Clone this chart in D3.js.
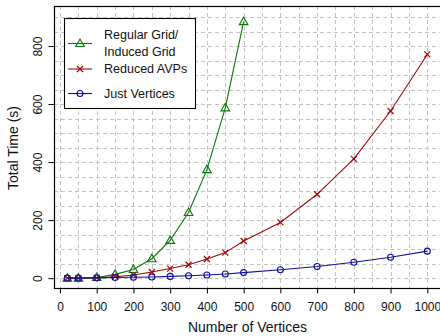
<!DOCTYPE html>
<html>
<head>
<meta charset="utf-8">
<script src="https://cdn.jsdelivr.net/npm/d3@7"></script>
<style>
  body { margin: 0; background: #fff; }
  svg text { font-family: "Liberation Sans", Arial, sans-serif; fill: #111; }
</style>
</head>
<body>
<div id="chart"></div>
<script>
// data
const vertices = [20, 50, 100, 150, 200, 250, 300, 350, 400, 450, 500, 600, 700, 800, 900, 1000];
const gridTimes = [0, 0, 2, 13, 30, 67, 130, 226, 374, 587, 884];
const avpTimes = [0, 0, 1, 5, 11, 21, 33, 46, 66, 88, 128, 192, 289, 411, 576, 771];
const vertexTimes = [0, 0, 1, 2, 3, 4, 6, 8, 11, 14, 19, 29, 40, 55, 72, 93];
const xTicks = [0, 100, 200, 300, 400, 500, 600, 700, 800, 900, 1000];
const yTicks = [0, 200, 400, 600, 800];

const W = 440, H = 336;
const plot = { left: 54, top: 6, right: 441, bottom: 288 };

const svg = d3.select("#chart").append("svg")
  .attr("width", W)
  .attr("height", H);

const x = d3.scaleLinear().domain([-16.3, 1037.3]).range([plot.left, plot.right]);
const y = d3.scaleLinear().domain([-34, 938]).range([plot.bottom, plot.top]);

// dashed grid every 50
const gx = d3.range(0, 1001, 50), gy = d3.range(0, 901, 50);
const grid = svg.append("g")
  .attr("stroke", "#c4c4c4")
  .attr("stroke-width", 1)
  .attr("stroke-dasharray", "4,3");
grid.selectAll("line.v").data(gx).enter().append("line")
  .attr("x1", d => Math.round(x(d)) + 0.5).attr("x2", d => Math.round(x(d)) + 0.5)
  .attr("y1", plot.top).attr("y2", plot.bottom);
grid.selectAll("line.h").data(gy).enter().append("line")
  .attr("y1", d => Math.round(y(d)) + 0.5).attr("y2", d => Math.round(y(d)) + 0.5)
  .attr("x1", plot.left).attr("x2", plot.right);

// box
svg.append("rect")
  .attr("x", plot.left + 0.5).attr("y", plot.top + 0.5)
  .attr("width", plot.right - plot.left).attr("height", plot.bottom - plot.top)
  .attr("fill", "none").attr("stroke", "#000").attr("stroke-width", 1.2);

// axes
const xAxis = svg.append("g")
  .attr("transform", `translate(0, ${plot.bottom + 0.5})`)
  .call(d3.axisBottom(x).tickValues(xTicks).tickFormat(d3.format("d"))
    .tickSize(5).tickPadding(8.5).tickSizeOuter(0));
xAxis.select(".domain").remove();
xAxis.selectAll("text").style("font-size", "12px");

const yAxis = svg.append("g")
  .attr("transform", `translate(${plot.left + 0.5}, 0)`)
  .call(d3.axisLeft(y).tickValues(yTicks).tickFormat(d3.format("d"))
    .tickSize(6).tickSizeOuter(0));
yAxis.select(".domain").remove();
yAxis.selectAll("text")
  .attr("transform", "rotate(-90)")
  .attr("text-anchor", "middle")
  .attr("x", 0)
  .attr("y", -16.5)
  .attr("dy", "0.35em")
  .style("font-size", "12px");

svg.append("text")
  .attr("x", (plot.left + plot.right) / 2)
  .attr("y", 332)
  .attr("text-anchor", "middle")
  .style("font-size", "14px")
  .text("Number of Vertices");
svg.append("text")
  .attr("transform", "translate(18, 148) rotate(-90)")
  .attr("text-anchor", "middle")
  .style("font-size", "14px")
  .text("Total Time (s)");

// series
const series = [
  { name: ["Regular Grid/", "Induced Grid"], color: "#087808", shape: "triangle", values: gridTimes },
  { name: ["Reduced AVPs"], color: "#a00808", shape: "cross", values: avpTimes },
  { name: ["Just Vertices"], color: "#10109c", shape: "circle", values: vertexTimes }
];

function drawMarker(g, shape, color) {
  if (shape === "triangle") {
    g.append("path").attr("d", "M0,-4.5L4.3,3L-4.3,3Z")
      .attr("fill", "none").attr("stroke", color).attr("stroke-width", 1.1);
  } else if (shape === "cross") {
    g.append("path").attr("d", "M-3,-3L3,3M-3,3L3,-3")
      .attr("stroke", color).attr("stroke-width", 1.2);
  } else {
    g.append("circle").attr("r", 3)
      .attr("fill", "none").attr("stroke", color).attr("stroke-width", 1.1);
  }
}

const line = d3.line().x(d => x(d[0])).y(d => y(d[1]));
series.forEach(s => {
  const pts = s.values.map((v, i) => [vertices[i], v]);
  svg.append("path")
    .attr("d", line(pts))
    .attr("fill", "none")
    .attr("stroke", s.color)
    .attr("stroke-width", 1.1);
  pts.forEach(p => {
    const g = svg.append("g").attr("transform", `translate(${x(p[0])}, ${y(p[1])})`);
    drawMarker(g, s.shape, s.color);
  });
});

// legend
const legend = svg.append("g");
legend.append("rect")
  .attr("x", 64.5).attr("y", 18.5).attr("width", 131).attr("height", 90)
  .attr("fill", "#fff").attr("stroke", "#000").attr("stroke-width", 1.1);
const legendRows = [43.5, 69, 93.5];
series.forEach((s, i) => {
  const ly = legendRows[i];
  legend.append("line")
    .attr("x1", 68).attr("x2", 92).attr("y1", ly).attr("y2", ly)
    .attr("stroke", s.color).attr("stroke-width", 1.1);
  drawMarker(legend.append("g").attr("transform", `translate(80, ${ly})`), s.shape, s.color);
  const t = legend.append("text")
    .attr("x", 104)
    .attr("y", ly)
    .style("font-size", "12.5px");
  if (s.name.length === 2) {
    t.append("tspan").attr("x", 104).attr("y", ly - 8.5).attr("dy", "0.35em").text(s.name[0]);
    t.append("tspan").attr("x", 104).attr("y", ly + 8.5).attr("dy", "0.35em").text(s.name[1]);
  } else {
    t.attr("dy", "0.35em").text(s.name[0]);
  }
});
</script>
</body>
</html>
